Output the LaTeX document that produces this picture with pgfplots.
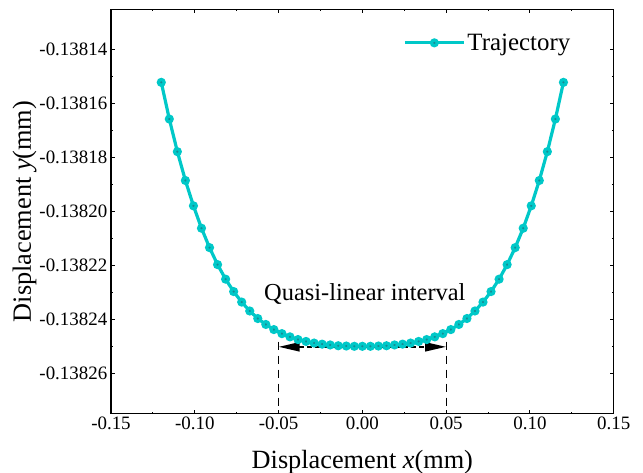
\documentclass[border=0pt]{standalone}
\usepackage{fontspec}
\setmainfont{Liberation Serif}
\usepackage{pgfplots}
\pgfplotsset{compat=1.18}
\usepackage{pgfplotstable}
\usetikzlibrary{arrows.meta}
\definecolor{linec}{RGB}{0,200,200}
\definecolor{markc}{RGB}{22,138,148}
% Trajectory: x in mm; y stored as dy = (y + 0.1382 mm) * 1e5,
% i.e. y = -0.1382 + dy*1e-5 mm (avoids loss of precision in TeX arithmetic)
\pgfplotstableread{
x dy
-0.1200 4.79
-0.1152 3.43
-0.1104 2.22
-0.1056 1.15
-0.1008 0.21
-0.0960 -0.62
-0.0912 -1.34
-0.0864 -1.97
-0.0816 -2.51
-0.0768 -2.97
-0.0720 -3.36
-0.0672 -3.69
-0.0624 -3.97
-0.0576 -4.19
-0.0528 -4.38
-0.0480 -4.53
-0.0432 -4.65
-0.0384 -4.75
-0.0336 -4.82
-0.0288 -4.88
-0.0240 -4.92
-0.0192 -4.95
-0.0144 -4.98
-0.0096 -4.99
-0.0048 -5.00
0.0000 -5.00
0.0048 -5.00
0.0096 -4.99
0.0144 -4.98
0.0192 -4.95
0.0240 -4.92
0.0288 -4.88
0.0336 -4.82
0.0384 -4.75
0.0432 -4.65
0.0480 -4.53
0.0528 -4.38
0.0576 -4.19
0.0624 -3.97
0.0672 -3.69
0.0720 -3.36
0.0768 -2.97
0.0816 -2.51
0.0864 -1.97
0.0912 -1.34
0.0960 -0.62
0.1008 0.21
0.1056 1.15
0.1104 2.22
0.1152 3.43
0.1200 4.79
}\traj
\begin{document}
\begin{tikzpicture}
\useasboundingbox (0,0) rectangle (643bp,473bp);
\begin{axis}[
  at={(111bp,59.3bp)}, anchor=south west,
  scale only axis, width=502.7bp, height=404.4bp,
  xmin=-0.15, xmax=0.15, ymin=-7.5, ymax=7.5,
  xtick={-0.15,-0.10,-0.05,0,0.05,0.10,0.15},
  xticklabels={-0.15,-0.10,-0.05,0.00,0.05,0.10,0.15},
  ytick={-6,-4,-2,0,2,4,6},
  yticklabels={-0.13826,-0.13824,-0.13822,-0.13820,-0.13818,-0.13816,-0.13814},
  minor x tick num=1, minor y tick num=1,
  tick align=inside, major tick length=4bp, minor tick length=2bp,
  tick style={black, line width=0.9bp},
  axis line style={line width=1.1bp},
  /pgf/number format/assume math mode=true,
  ticklabel style={font=\fontsize{19}{21}\selectfont, inner sep=3.5bp},
  xlabel={Displacement \textit{x}(mm)},
  ylabel={Displacement \textit{y}(mm)},
  label style={font=\fontsize{26.4}{28}\selectfont},
  xlabel style={at={([yshift=-54.3bp]axis description cs:0.5,0)}, anchor=base},
  ylabel style={at={([xshift=-80bp]axis description cs:0,0.5)}, anchor=base, rotate=0},
  legend style={draw=none, fill=none, inner sep=0pt,
    at={(axis description cs:0.581,0.917)}, anchor=west,
    font=\fontsize{25}{27}\selectfont},
  legend image code/.code={\draw[mark repeat=2,mark phase=2,#1] plot coordinates {(0bp,0bp)(29.5bp,0bp)(59bp,0bp)};},
]
\addplot[color=linec, line width=3.2bp, mark=*, mark size=2.9bp,
  mark options={draw=none, fill=markc}] table[x=x, y=dy] {\traj};
\addlegendentry{Trajectory}
\draw[dash pattern=on 8bp off 6bp, line width=0.9bp] (axis cs:-0.05,-4.83) -- (axis cs:-0.05,-7.5);
\draw[dash pattern=on 8bp off 6bp, line width=0.9bp] (axis cs:0.05,-4.83) -- (axis cs:0.05,-7.5);
\draw[line width=2bp, dash pattern=on 5bp off 3bp,
  {Triangle[length=21bp,width=9bp]}-{Triangle[length=21bp,width=9bp]}]
  (axis cs:-0.05,-5.02) -- (axis cs:0.05,-5.02);
\node[font=\fontsize{24.5}{26}\selectfont, anchor=base] at (axis cs:0.0015,-3.31) {Quasi-linear interval};
\end{axis}
\end{tikzpicture}
\end{document}
